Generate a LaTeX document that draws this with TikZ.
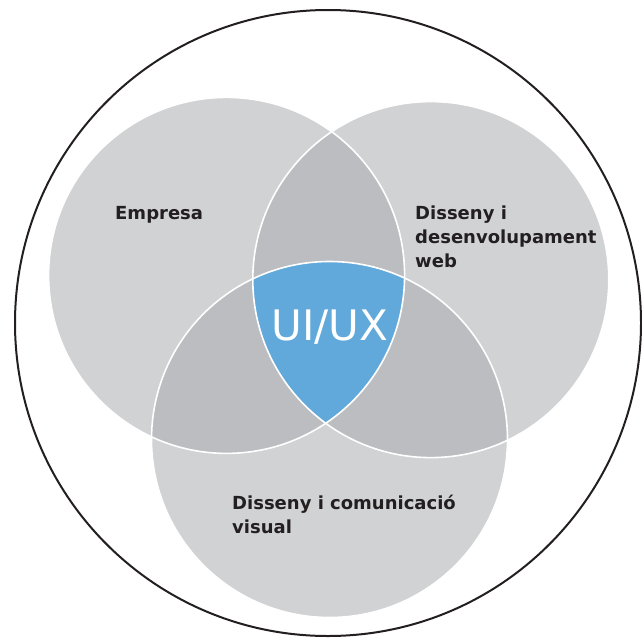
\documentclass[tikz,border=0pt]{standalone}
\usepackage{fontspec}
\setmainfont{DejaVu Sans}
\definecolor{lightgrey}{HTML}{D1D2D4}
\definecolor{midgrey}{HTML}{BCBDC0}
\definecolor{uxblue}{HTML}{62A9DB}
\definecolor{inktext}{HTML}{231F20}

\begin{document}
\begin{tikzpicture}[x=1pt,y=-1pt,
  venntext/.style={font=\bfseries\fontsize{18}{24}\selectfont, text=inktext, align=left, inner sep=0pt, anchor=base west},
  seam/.style={white, line width=1.6pt}]
\useasboundingbox (0,0) rectangle (642,637);
\coordinate (ring) at (328,323);
\coordinate (emp) at (226.6,275.4);
\coordinate (web) at (430.8,279.6);
\coordinate (vis) at (329.5,439.5);
% three circles
\fill[lightgrey] (emp) circle (178pt);
\fill[lightgrey] (web) circle (178pt);
\fill[lightgrey] (vis) circle (178pt);
% overlaps of two
\begin{scope}
 \clip (emp) circle (178pt);
 \fill[midgrey] (web) circle (178pt);
 \fill[midgrey] (vis) circle (178pt);
\end{scope}
\begin{scope}
 \clip (web) circle (178pt);
 \fill[midgrey] (vis) circle (178pt);
\end{scope}
% overlap of all three
\begin{scope}
 \clip (emp) circle (178pt);
 \clip (web) circle (178pt);
 \fill[uxblue] (vis) circle (178pt);
\end{scope}
\foreach \c in {emp,web,vis} {
 \draw[seam] (\c) circle (178pt);
}
\draw[inktext, line width=2pt] (ring) circle (313pt);
% texts (base = last line)
\node[venntext] (empresa) at (115,219) {Empresa};
\node[venntext] (webdev) at (415,267) {Disseny i\\desenvolupament\\web};
\node[venntext] (visual) at (232,533) {Disseny i comunicació\\visual};
\node[font=\fontsize{42}{42}\selectfont, text=white, inner sep=0pt, anchor=base] (uiux) at (330,340) {UI/UX};
\end{tikzpicture}
\end{document}
